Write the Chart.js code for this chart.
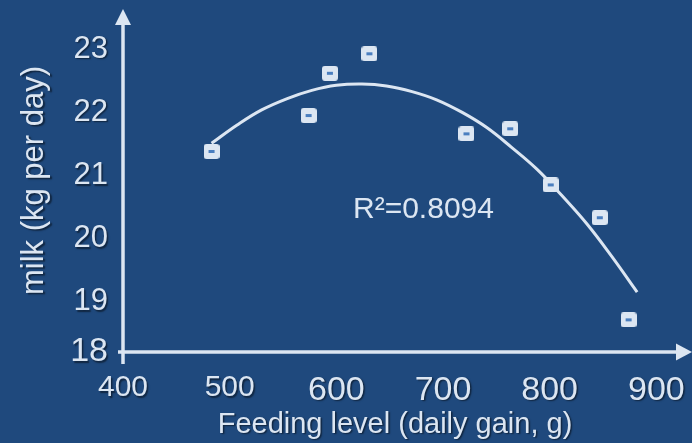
<!DOCTYPE html>
<html>
<head>
<meta charset="utf-8">
<script src="https://cdn.jsdelivr.net/npm/chart.js@4"></script>
<style>
  html, body { margin: 0; padding: 0; background: #1f497d; }
  #wrap { width: 692px; height: 443px; }
</style>
</head>
<body>
<div id="wrap"><canvas id="myChart"></canvas></div>
<script>
// feeding level (daily gain, g) vs milk (kg per day)
const feedX = [483, 574, 594, 631, 722, 763, 801, 847, 874];
const milkY = [21.38, 21.95, 22.62, 22.93, 21.66, 21.74, 20.85, 20.33, 18.71];

// trend line
const trendX = [483, 507, 530, 554, 577, 600, 624, 647, 671, 694, 718, 741, 764, 788, 811, 835, 858, 882];
const trendY = [21.51, 21.80, 22.04, 22.22, 22.35, 22.43, 22.45, 22.42, 22.33, 22.20, 22.00, 21.76, 21.45, 21.10, 20.69, 20.23, 19.72, 19.15];

const xTickValues = [400, 500, 600, 700, 800, 900];
const xTickLabels = ['400', '500', '600', '700', '800', '900'];
const yTickValues = [18.2, 19, 20, 21, 22, 23];
const yTickLabels = ['18', '19', '20', '21', '22', '23'];

const rSquared = 'R\u00b2=0.8094';

const light = '#dce6f2';
const fontFamily = '"Liberation Sans", Arial, sans-serif';

// marker: rounded light square with a small blue dash
function makeMarker() {
  const c = document.createElement('canvas');
  c.width = 16; c.height = 15;
  const g = c.getContext('2d');
  g.fillStyle = light;
  g.beginPath();
  g.roundRect(0, 0, 16, 15, 3);
  g.fill();
  g.fillStyle = '#4a7ebf';
  g.fillRect(5, 6, 6, 3);
  return c;
}

const textShadow = {
  id: 'textShadow',
  beforeDraw(chart) {
    const ctx = chart.ctx;
    ctx.save();
    ctx.shadowColor = 'rgba(0,0,0,0.5)';
    ctx.shadowOffsetX = 1.5;
    ctx.shadowOffsetY = 1.5;
    ctx.shadowBlur = 1.5;
  },
  beforeDatasetsDraw(chart) {
    chart.ctx.restore();
  }
};

const arrowAxes = {
  id: 'arrowAxes',
  beforeDatasetsDraw(chart) {
    const {ctx, chartArea: a} = chart;
    const right = chart.width;
    ctx.save();
    ctx.strokeStyle = light;
    ctx.fillStyle = light;
    ctx.lineWidth = 3.5;
    // y axis
    ctx.beginPath();
    ctx.moveTo(a.left, a.bottom + 12);
    ctx.lineTo(a.left, a.top + 14);
    ctx.stroke();
    ctx.beginPath();
    ctx.moveTo(a.left, a.top);
    ctx.lineTo(a.left - 8, a.top + 16);
    ctx.lineTo(a.left + 8, a.top + 16);
    ctx.closePath();
    ctx.fill();
    // x axis
    ctx.beginPath();
    ctx.moveTo(a.left - 5, a.bottom);
    ctx.lineTo(right - 14, a.bottom);
    ctx.stroke();
    ctx.beginPath();
    ctx.moveTo(right, a.bottom);
    ctx.lineTo(right - 16, a.bottom - 8.5);
    ctx.lineTo(right - 16, a.bottom + 8.5);
    ctx.closePath();
    ctx.fill();
    // R² label
    ctx.font = '30px ' + fontFamily;
    ctx.textAlign = 'left';
    ctx.textBaseline = 'alphabetic';
    ctx.fillText(rSquared, a.left + 230, 218);
    ctx.restore();
  }
};

const ctx = document.getElementById('myChart');

new Chart(ctx, {
  type: 'scatter',
  data: {
    datasets: [
      {
        label: 'milk',
        data: feedX.map((x, i) => ({x: x, y: milkY[i]})),
        pointStyle: makeMarker(),
        pointRadius: 8,
        order: 0
      },
      {
        label: 'trend',
        data: trendX.map((x, i) => ({x: x, y: trendY[i]})),
        showLine: true,
        borderColor: light,
        borderWidth: 3,
        pointRadius: 0,
        tension: 0.4,
        order: 1
      }
    ]
  },
  options: {
    responsive: true,
    maintainAspectRatio: false,
    animation: false,
    layout: {
      padding: {top: 8, right: 25, left: 0, bottom: 0}
    },
    scales: {
      x: {
        type: 'linear',
        min: 400,
        max: 910,
        afterBuildTicks: (scale) => {
          scale.ticks = xTickValues.map(v => ({value: v}));
        },
        afterFit: (scale) => {
          scale.height = 91;
          scale.paddingLeft = 0;
          scale.paddingRight = 0;
        },
        ticks: {
          autoSkip: false,
          maxRotation: 0,
          padding: 18,
          color: light,
          font: (c) => ({family: fontFamily, size: c.index < 2 ? 30 : 34}),
          callback: (v, i) => xTickLabels[i]
        },
        grid: {display: false, drawTicks: false},
        border: {display: false},
        title: {
          display: true,
          text: 'Feeding level (daily gain, g)',
          color: light,
          font: {family: fontFamily, size: 29},
          padding: {top: 0, bottom: 1}
        }
      },
      y: {
        type: 'linear',
        min: 18.2,
        max: 23.64,
        afterBuildTicks: (scale) => {
          scale.ticks = yTickValues.map(v => ({value: v}));
        },
        afterFit: (scale) => {
          scale.width = 123;
          scale.paddingTop = 0;
          scale.paddingBottom = 0;
        },
        ticks: {
          autoSkip: false,
          padding: 15,
          color: light,
          font: (c) => ({family: fontFamily, size: c.index === 0 ? 34 : 31}),
          callback: (v, i) => yTickLabels[i]
        },
        grid: {display: false, drawTicks: false},
        border: {display: false},
        title: {
          display: true,
          text: 'milk (kg per day)',
          color: light,
          font: {family: fontFamily, size: 31},
          padding: {top: 16, bottom: 0}
        }
      }
    },
    plugins: {
      legend: {display: false},
      tooltip: {enabled: false}
    }
  },
  plugins: [textShadow, arrowAxes]
});
</script>
</body>
</html>
